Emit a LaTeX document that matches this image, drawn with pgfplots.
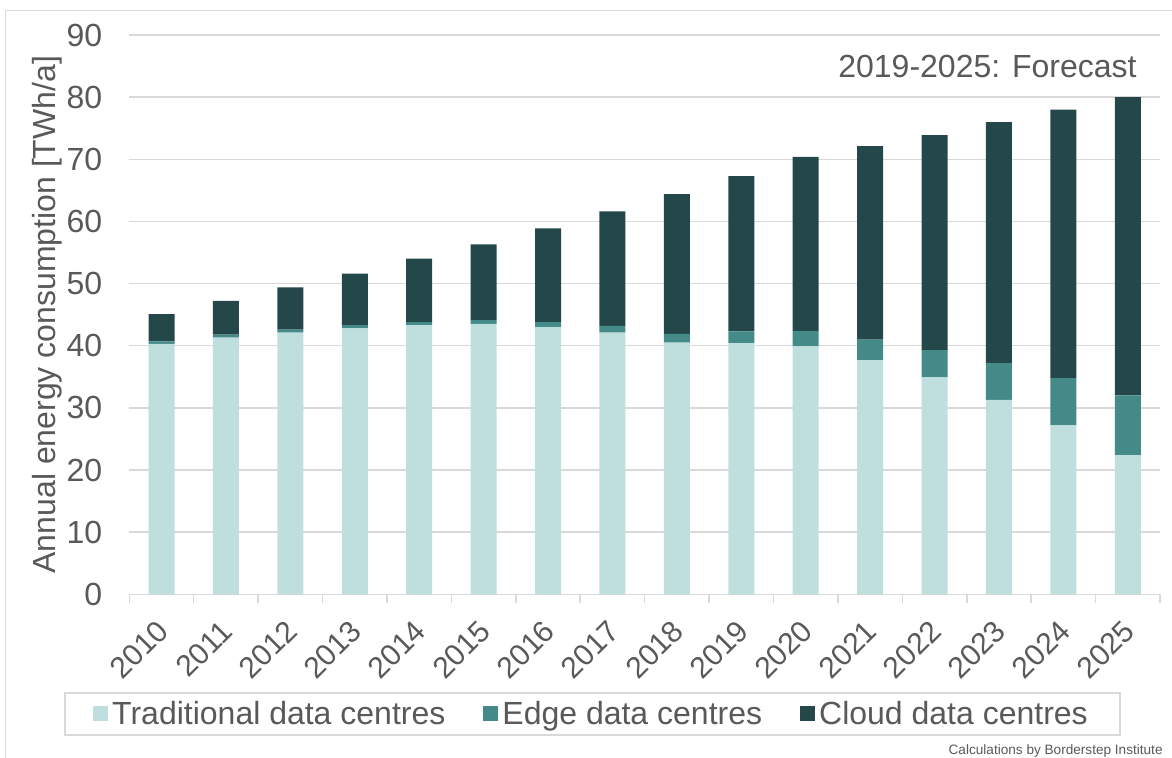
\documentclass[border=0pt]{standalone}
\usepackage{fontspec}
\setmainfont{Liberation Sans}
\usepackage{pgfplots}
\pgfplotsset{compat=1.18}
\definecolor{tradc}{HTML}{BFDFDE}
\definecolor{edgec}{HTML}{438A89}
\definecolor{cloudc}{HTML}{244849}
\definecolor{txt}{HTML}{595959}
\definecolor{gridc}{HTML}{D9D9D9}
\begin{document}
\begin{tikzpicture}
\useasboundingbox (0,0) rectangle (586pt,-379pt);
\draw[gridc, line width=0.5pt] (2.5pt,-379pt) -- (2.5pt,-5.5pt) -- (586pt,-5.5pt);
\begin{axis}[
  at={(64.65pt,-297.15pt)}, anchor=south west,
  scale only axis, width=515.35pt, height=279.65pt,
  ybar stacked, bar width=13pt,
  xmin=-0.5, xmax=15.5, ymin=0, ymax=90,
  xtick={0,...,15},
  xticklabels={2010,2011,2012,2013,2014,2015,2016,2017,2018,2019,2020,2021,2022,2023,2024,2025},
  minor xtick={-0.5,0.5,...,15.5},
  ytick={0,10,...,90},
  /pgf/number format/assume math mode=true,
  axis x line*=bottom, axis y line*=left,
  y axis line style={draw=none},
  x axis line style={gridc, line width=0.75pt},
  major tick length=0pt, minor tick length=4.5pt, tick align=outside,
  minor x tick style={gridc, line width=0.75pt},
  ymajorgrids, major grid style={gridc, line width=0.75pt},
  yticklabel style={font=\fontsize{16}{19}\selectfont, text=txt, xshift=-10pt},
  xticklabel style={font=\fontsize{15}{18}\selectfont, text=txt, xshift=1.5pt, yshift=-15pt, rotate=45, anchor=east, inner sep=1pt},
  ylabel={Annual energy consumption [TWh/a]},
  every axis y label/.style={at={(axis description cs:-0.0798,0.5)}, anchor=center, rotate=90, font=\fontsize{16}{19}\selectfont, text=txt},
  legend columns=3,
  legend image code/.code={\fill[#1] (0pt,-3.75pt) rectangle (7.5pt,3.75pt);},
  legend style={at={(axis description cs:0.4494,-0.214)}, anchor=center,
    draw=gridc, line width=0.75pt, font=\fontsize{16}{19}\selectfont, text=txt,
    inner xsep=14pt, inner ysep=2pt,
    /tikz/every even column/.append style={column sep=17pt},
    nodes={inner xsep=2pt}},
]
\addplot[fill=tradc, draw=none] coordinates {(0,40.3) (1,41.3) (2,42.1) (3,42.8) (4,43.3) (5,43.5) (6,43.0) (7,42.1) (8,40.5) (9,40.4) (10,39.9) (11,37.7) (12,34.9) (13,31.3) (14,27.2) (15,22.4)};
\addplot[fill=edgec, draw=none] coordinates {(0,0.4) (1,0.5) (2,0.5) (3,0.5) (4,0.5) (5,0.6) (6,0.8) (7,1.1) (8,1.4) (9,1.9) (10,2.5) (11,3.3) (12,4.4) (13,5.9) (14,7.6) (15,9.6)};
\addplot[fill=cloudc, draw=none] coordinates {(0,4.4) (1,5.4) (2,6.8) (3,8.3) (4,10.2) (5,12.2) (6,15.1) (7,18.4) (8,22.5) (9,25.0) (10,28.0) (11,31.1) (12,34.6) (13,38.8) (14,43.2) (15,48.0)};
\legend{Traditional data centres, Edge data centres, Cloud data centres}
\end{axis}
\node[anchor=east, font=\fontsize{16}{19}\selectfont, text=txt, inner sep=0pt] at (568.5pt,-33pt) {2019-2025: Forecast};
\node[anchor=base east, font=\fontsize{6.8}{8}\selectfont, text=txt, inner sep=0pt] at (581.5pt,-377pt) {Calculations by Borderstep Institute};
\end{tikzpicture}
\end{document}
